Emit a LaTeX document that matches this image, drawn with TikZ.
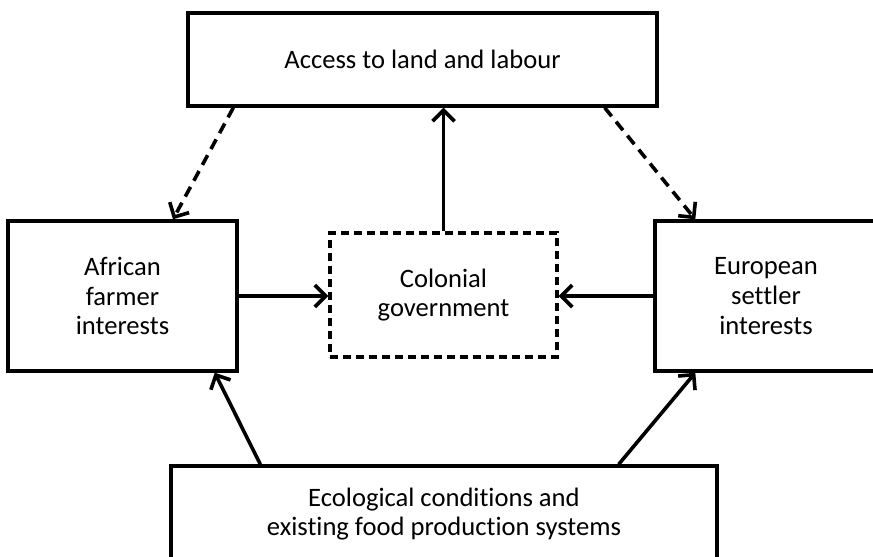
\documentclass[tikz,border=0pt]{standalone}
\usepackage{fontspec}
\setmainfont[Ligatures={NoCommon}]{Carlito}
\usepackage{tikz}
\usetikzlibrary{arrows.meta}
\tikzset{box/.style={draw,line width=1.7pt,inner sep=0pt,align=center,font=\fontsize{13.3pt}{14.8pt}\selectfont},
	dashed box/.style={box,dash pattern=on 4pt off 2.5pt},
	link/.style={line width=1.8pt,-{Straight Barb[length=5.5pt,width=11pt,line width=1.8pt]}},
	dashed link/.style={link,dash pattern=on 5.5pt off 3.5pt}}

\begin{document}
\begin{tikzpicture}[x=0.5pt,y=-0.5pt]
			\useasboundingbox (0,0) rectangle (873,557);
			\clip (0,0) rectangle (873,557);
			% boxes
			\node[box,minimum width=234.5pt,minimum height=46.5pt] (land) at (422.5,59.5) {Access to land and labour};
			\node[box,minimum width=114.5pt,minimum height=75pt] (african) at (122.5,296) {African\\farmer\\interests};
			\node[dashed box,minimum width=113.5pt,minimum height=62pt] (colonial) at (443.5,295) {Colonial\\government};
			\node[box,minimum width=111pt,minimum height=75pt] (european) at (766,296) {European\\settler\\interests};
			\node[box,minimum width=273pt,minimum height=48pt] (ecology) at (444,514) {Ecological conditions and\\existing food production systems};
			% connectors
			\draw[dashed link] ([xshift=23.5pt]land.south west) -- ([xshift=25.25pt]african.north);
			\draw[dashed link] ([xshift=-27pt]land.south east) -- ([xshift=21pt]european.north west);
			\draw[link] (colonial.north) -- (colonial.north |- land.south);
			\draw[link] (african.east) -- (colonial.west |- african.east);
			\draw[link] (european.west) -- (colonial.east |- european.west);
			\draw[link] ([xshift=45.5pt]ecology.north west) -- ([xshift=-12pt]african.south east);
			\draw[link] ([xshift=-50pt]ecology.north east) -- ([xshift=21pt]european.south west);
		\end{tikzpicture}
\end{document}
